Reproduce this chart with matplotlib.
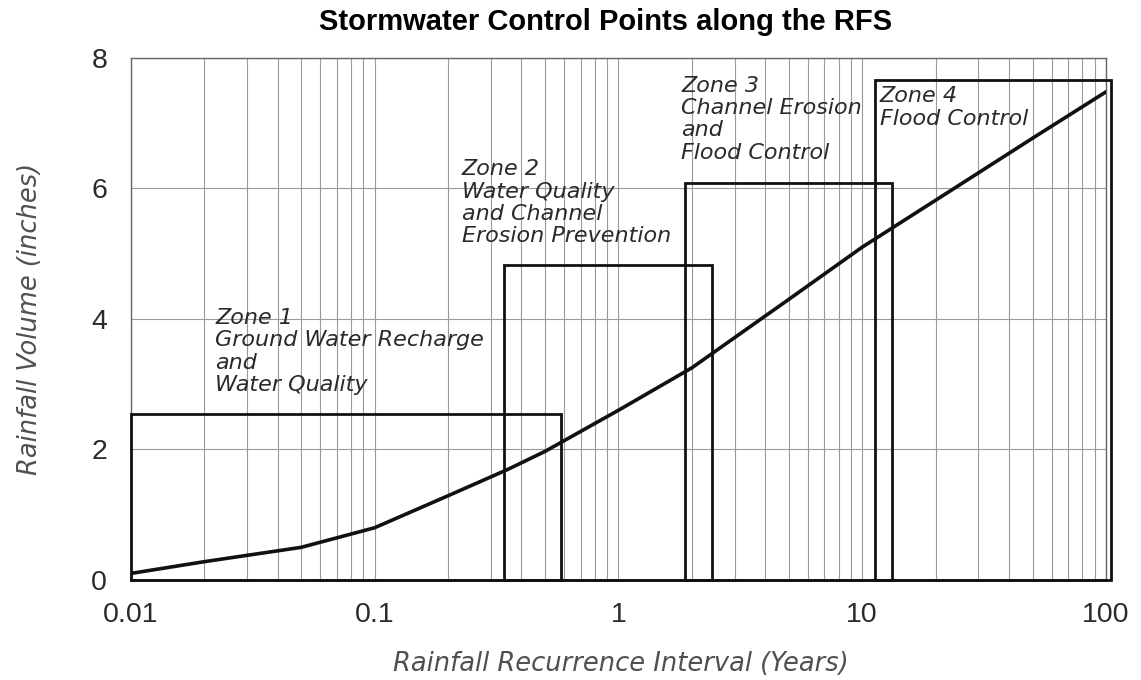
import matplotlib
matplotlib.use("Agg")
import matplotlib.pyplot as plt
from matplotlib.patches import Rectangle
from matplotlib.ticker import FixedLocator, LogLocator, NullFormatter

# rainfall frequency spectrum curve
interval = [0.01, 0.02, 0.05, 0.1, 0.2, 0.35, 0.5, 1, 2, 5, 10, 25, 50, 100]
volume = [0.10, 0.28, 0.50, 0.80, 1.29, 1.69, 1.97, 2.60, 3.25, 4.30, 5.10, 6.05, 6.77, 7.48]

# zone boxes: (x start, x end, top)
zone_x0 = [0.01, 0.341, 1.87, 11.3]
zone_x1 = [0.582, 2.42, 13.2, 105]
zone_top = [2.55, 4.82, 6.08, 7.66]
zone_text = [
    "Zone 1\nGround Water Recharge\nand\nWater Quality",
    "Zone 2\nWater Quality\nand Channel\nErosion Prevention",
    "Zone 3\nChannel Erosion\nand\nFlood Control",
    "Zone 4\nFlood Control",
]
text_x = [0.0222, 0.228, 1.81, 11.8]
text_y = [3.50, 5.78, 7.06, 7.24]

xticks = [0.01, 0.1, 1, 10, 100]
xtick_labels = ["0.01", "0.1", "1", "10", "100"]
yticks = [0, 2, 4, 6, 8]

fig = plt.figure(figsize=(11.41, 6.8), dpi=100)
ax = fig.add_axes([0.1146, 0.1471, 0.8547, 0.7677])

ax.set_xscale("log")
ax.set_xlim(0.01, 100)
ax.set_ylim(0, 8)

ax.xaxis.set_major_locator(FixedLocator(xticks))
ax.set_xticklabels(xtick_labels)
ax.xaxis.set_minor_locator(LogLocator(base=10, subs=range(2, 10)))
ax.xaxis.set_minor_formatter(NullFormatter())
ax.set_yticks(yticks)

ax.grid(True, which="both", axis="x", color="#9a9a9a", lw=0.8)
ax.grid(True, which="major", axis="y", color="#9a9a9a", lw=0.8)
ax.set_axisbelow(True)
ax.tick_params(which="both", length=0)
ax.tick_params(axis="y", pad=17)
ax.tick_params(axis="x", pad=16)
for lab in ax.get_xticklabels() + ax.get_yticklabels():
    lab.set_fontfamily("Liberation Sans")
    lab.set_fontsize(20.5)
    lab.set_color("#2a2a2a")

for s in ax.spines.values():
    s.set_color("#666666")
    s.set_linewidth(1.0)
ax.spines["bottom"].set_color("#222222")
ax.spines["bottom"].set_linewidth(1.8)

for x0, x1, top in zip(zone_x0, zone_x1, zone_top):
    ax.add_patch(Rectangle((x0, 0), x1 - x0, top, fill=False,
                           ec="#111111", lw=2.0, clip_on=False, zorder=3))

ax.plot(interval, volume, color="#111111", lw=2.6, zorder=4)

for t, x, y in zip(zone_text, text_x, text_y):
    ax.text(x, y, t, ha="left", va="center", fontsize=16, style="italic",
            family="DejaVu Sans", color="#2a2a2a", linespacing=1.15, zorder=5)

ax.set_xlabel("Rainfall Recurrence Interval (Years)", fontsize=18.5,
              style="italic", family="DejaVu Sans", color="#505050")
ax.set_ylabel("Rainfall Volume (inches)", fontsize=18.5,
              style="italic", family="DejaVu Sans", color="#505050")
ax.xaxis.set_label_coords(0.502, -0.136)
ax.yaxis.set_label_coords(-0.09, 0.5)

fig.text(0.531, 0.967, "Stormwater Control Points along the RFS",
         ha="center", va="center", fontsize=21, fontweight="bold",
         family="Liberation Sans")

fig.savefig("out.png", dpi=100, facecolor="white")
